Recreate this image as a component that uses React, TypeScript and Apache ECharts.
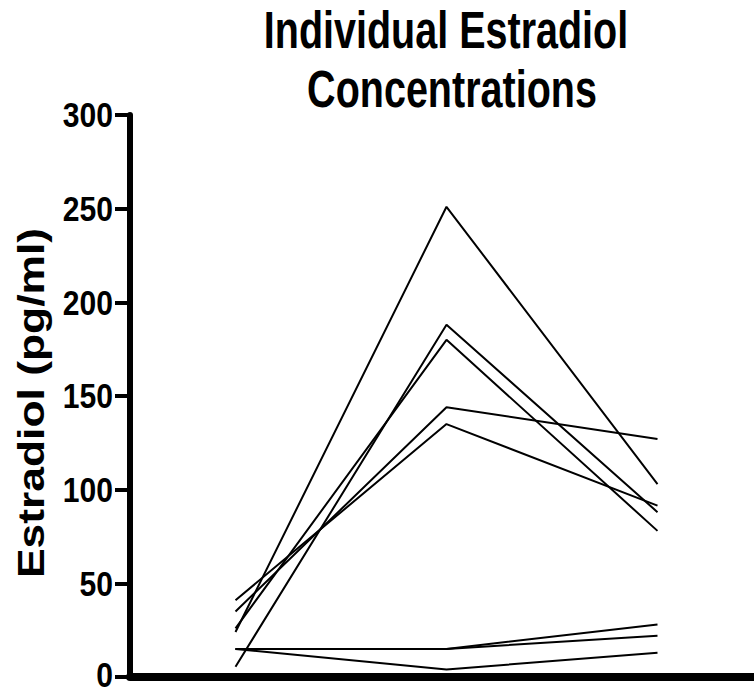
import React, { useEffect, useRef } from "react";
import * as echarts from "echarts";

const timePoints = ["T1", "T2", "T3"];
const yTicks = [0, 50, 100, 150, 200, 250, 300];
const titleLines = ["Individual Estradiol", "Concentrations"];
const yAxisTitle = "Estradiol (pg/ml)";

const subjectA = [24, 251, 103];
const subjectB = [5.5, 188, 88];
const subjectC = [26, 180, 78];
const subjectD = [35, 144, 127];
const subjectE = [41, 135, 91.5];
const subjectF = [15, 15, 28];
const subjectG = [15, 15, 22];
const subjectH = [15, 4, 13];

const subjects = [subjectA, subjectB, subjectC, subjectD, subjectE, subjectF, subjectG, subjectH];

const FONT = "'Liberation Sans', Arial, Helvetica, sans-serif";
const GRID_LEFT = 130;
const CHART_H = 693;
const LABEL_SIZE = 35;

export default function App() {
  const ref = useRef<HTMLDivElement>(null);
  useEffect(() => {
    if (!ref.current) return;
    const chart = echarts.init(ref.current, null, { renderer: "svg" });
    chart.setOption({
      animation: false,
      backgroundColor: "#ffffff",
      grid: {
        left: GRID_LEFT,
        right: -9,
        top: 115,
        bottom: 16,
        containLabel: false,
        outerBoundsMode: "none",
      },
      xAxis: {
        type: "category",
        data: timePoints,
        boundaryGap: true,
        axisLine: { show: true, lineStyle: { color: "#000", width: 8 } },
        axisTick: { show: false },
        axisLabel: { show: false },
        splitLine: { show: false },
      },
      yAxis: {
        type: "value",
        min: yTicks[0],
        max: yTicks[yTicks.length - 1],
        interval: 50,
        axisLine: { show: true, lineStyle: { color: "#000", width: 6 } },
        axisTick: { show: true, length: 15, lineStyle: { color: "#000", width: 4 } },
        axisLabel: { show: false },
        splitLine: { show: false },
      },
      series: subjects.map((d, i) => ({
        name: "S" + (i + 1),
        type: "line",
        data: d,
        symbol: "none",
        silent: true,
        lineStyle: { color: "#000", width: 2 },
        z: 3,
      })),
    });

    const tickLabels = yTicks.map((v) => {
      const py = chart.convertToPixel({ yAxisIndex: 0 }, v) as unknown as number;
      return {
        type: "text",
        x: GRID_LEFT - 17,
        y: Math.min(py, CHART_H - LABEL_SIZE / 2 - 1),
        scaleX: 0.86,
        silent: true,
        style: {
          text: String(v),
          fontFamily: FONT,
          fontWeight: "bold",
          fontSize: LABEL_SIZE,
          lineHeight: 28,
          fill: "#000",
          align: "right",
          verticalAlign: "middle",
        },
      };
    });

    chart.setOption({
      graphic: [
        {
          type: "text",
          x: 446,
          y: 30,
          scaleX: 0.76,
          silent: true,
          style: {
            text: titleLines[0],
            fontFamily: FONT,
            fontWeight: "bold",
            fontSize: 52,
            fill: "#000",
            align: "center",
            verticalAlign: "middle",
          },
        },
        {
          type: "text",
          x: 452,
          y: 89,
          scaleX: 0.76,
          silent: true,
          style: {
            text: titleLines[1],
            fontFamily: FONT,
            fontWeight: "bold",
            fontSize: 52,
            fill: "#000",
            align: "center",
            verticalAlign: "middle",
          },
        },
        {
          type: "text",
          x: 31,
          y: 403,
          rotation: Math.PI / 2,
          scaleX: 1.2,
          silent: true,
          style: {
            text: yAxisTitle,
            fontFamily: FONT,
            fontWeight: "bold",
            fontSize: 37,
            fill: "#000",
            align: "center",
            verticalAlign: "middle",
          },
        },
        ...tickLabels,
      ],
    });
    return () => chart.dispose();
  }, []);
  return (
    <div
      ref={ref}
      style={{ position: "fixed", left: 0, top: 0, width: 754, height: 693 }}
    />
  );
}
